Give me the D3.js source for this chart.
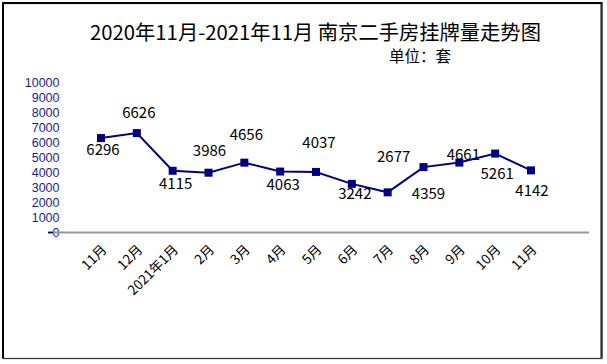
<!DOCTYPE html>
<html><head><meta charset="utf-8">
<script src="https://cdn.jsdelivr.net/npm/d3@7"></script>
<style>
html,body{margin:0;padding:0;background:#fff;}
svg{display:block;}
</style></head>
<body>
<svg id="chart" width="607" height="364"></svg>
<script>
// ---- data ----
const categories = ["11月","12月","2021年1月","2月","3月","4月","5月","6月","7月","8月","9月","10月","11月"];
const values = [6296,6626,4115,3986,4656,4063,4037,3242,2677,4359,4661,5261,4142];
const yTicks = [0,1000,2000,3000,4000,5000,6000,7000,8000,9000,10000];
const titleText = "2020年11月-2021年11月 南京二手房挂牌量走势图";
const unitText = "单位：套";

// ---- layout (label offsets relative to markers) ----
const labelDx = [2,2,3,1,2,3,3,3,6,5,4,2,1];
const labelDy = [10,-22,12,-23,-29,12,-30,9,-37,25,-9,19,19];

const svg = d3.select("#chart");
const navy = "#000080";

// frame
svg.append("rect").attr("x",3).attr("y",3.5).attr("width",599).attr("height",355)
  .attr("fill","#fff").attr("stroke","#a0a0a0").attr("stroke-width",1.5);
svg.append("path").attr("d","M3,358.5 V3 H601.5 V358")
  .attr("fill","none").attr("stroke","#000").attr("stroke-width",2);
svg.append("path").attr("d","M601.5,4 V358.5 H3")
  .attr("fill","none").attr("stroke","#333").attr("stroke-width",1);

const x = d3.scalePoint().domain(d3.range(categories.length)).range([101,531]);
const y = d3.scaleLinear().domain([0,10000]).range([232.5,82.5]);

// title
svg.append("text").attr("x",315.5).attr("y",31).attr("text-anchor","middle")
  .attr("dominant-baseline","central")
  .style("font-family","'Noto Sans CJK SC'").style("font-size","20.3px").style("font-weight","400")
  .attr("fill","#000").text(titleText);
svg.append("text").attr("x",420).attr("y",55).attr("text-anchor","middle")
  .attr("dominant-baseline","central")
  .style("font-family","'Noto Sans CJK SC'").style("font-size","15.5px")
  .attr("fill","#000").text(unitText);

// y axis labels
const yAxis = d3.axisLeft(y).tickValues(yTicks).tickSize(0).tickPadding(0).tickFormat(d3.format("d"));
const yg = svg.append("g").attr("transform","translate(59.5,0)").call(yAxis);
yg.attr("font-size",null).attr("font-family",null);
yg.select(".domain").remove();
yg.selectAll("text").attr("fill","#1c1c8c")
  .style("font-family","'Liberation Sans', Arial, sans-serif").style("font-size","12.5px");

// baseline
svg.append("line").attr("x1",48).attr("x2",589).attr("y1",y(0)).attr("y2",y(0))
  .attr("stroke","#999").attr("stroke-width",2);
svg.append("line").attr("x1",48).attr("x2",53).attr("y1",y(0)).attr("y2",y(0))
  .attr("stroke",navy).attr("stroke-width",1.5);

// x axis labels
const xAxis = d3.axisBottom(x).tickSize(0).tickFormat(i => categories[i]);
const xg = svg.append("g").attr("transform",`translate(0,${y(0)})`).call(xAxis);
xg.attr("font-size",null).attr("font-family",null);
xg.select(".domain").remove();
xg.selectAll("text")
  .attr("text-anchor","end")
  .attr("dy",null).attr("y",null)
  .attr("transform",`translate(6,18) rotate(-45)`)
  .attr("fill","#000")
  .style("font-family","'Noto Sans CJK SC'").style("font-size","13.5px");

// line
const line = d3.line().x((d,i)=>x(i)).y(d=>y(d));
svg.append("path").datum(values).attr("d",line)
  .attr("fill","none").attr("stroke",navy).attr("stroke-width",2);

// markers
svg.selectAll("rect.m").data(values).join("rect").attr("class","m")
  .attr("x",(d,i)=>x(i)-4).attr("y",d=>y(d)-4).attr("width",8).attr("height",8)
  .attr("fill",navy);

// data labels
svg.selectAll("text.lbl").data(values).join("text").attr("class","lbl")
  .attr("x",(d,i)=>x(i)+labelDx[i]).attr("y",(d,i)=>y(d)+labelDy[i])
  .attr("text-anchor","middle").attr("dominant-baseline","central")
  .style("font-family","'Noto Sans CJK SC'").style("font-size","15px")
  .attr("fill","#000").text(d=>d);
</script>
</body></html>
